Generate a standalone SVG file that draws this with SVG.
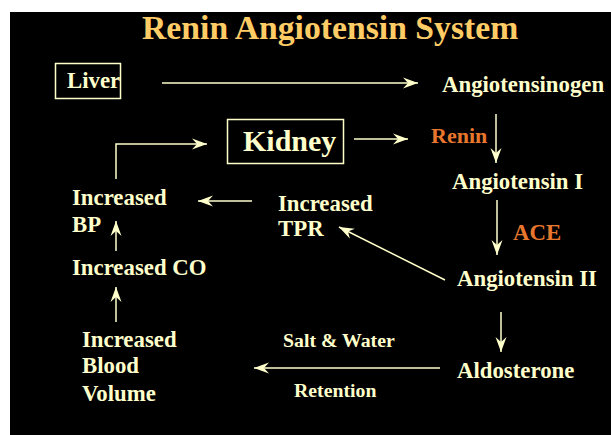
<svg xmlns="http://www.w3.org/2000/svg" width="611" height="435" viewBox="0 0 611 435" font-family="'Liberation Serif', 'Times New Roman', Times, 'DejaVu Serif', serif">
<defs>
<style>
text{font-family:'Liberation Serif','Times New Roman',Times,'DejaVu Serif',serif;font-weight:700}
.t{fill:#FFFFCC;font-size:22.8px}
.o{fill:#E8772E}
.s{font-size:19.8px}
.c{fill:none;stroke:#FFFFCC;stroke-width:1.5}
</style>
<marker id="ah" markerUnits="userSpaceOnUse" markerWidth="20" markerHeight="16" viewBox="-16 -8 20 16" refX="0" refY="0" orient="auto">
<path d="M0,0 L-15,-5.5 L-10,0 L-15,5.5 Z" fill="#FFFFCC"/>
</marker>
</defs>
<rect x="0" y="0" width="611" height="435" fill="#FFFFFF"/>
<rect x="10" y="12" width="601" height="423" fill="#000000"/>
<g id="title"><text class="t" x="142" y="39" style="font-size:33.7px;fill:#FFCC66">Renin Angiotensin System</text></g>
<g id="liver"><rect x="55.5" y="63.5" width="65" height="35" fill="none" stroke="#FFFFCC" stroke-width="1.5"/><text class="t" x="67" y="88">Liver</text></g>
<g id="angiotensinogen"><text class="t" x="442" y="92">Angiotensinogen</text></g>
<g id="kidney"><rect x="227.5" y="119.5" width="116" height="44" fill="none" stroke="#FFFFCC" stroke-width="1.5"/><text class="t" x="243" y="151" style="font-size:30px">Kidney</text></g>
<g id="renin"><text class="t o" x="431" y="143" style="font-size:22px">Renin</text></g>
<g id="angiotensin-i"><text class="t" x="452" y="189">Angiotensin I</text></g>
<g id="ace"><text class="t o" x="513" y="240">ACE</text></g>
<g id="angiotensin-ii"><text class="t" x="457" y="286">Angiotensin II</text></g>
<g id="increased-tpr"><text class="t" x="278" y="211">Increased</text><text class="t" x="278" y="236">TPR</text></g>
<g id="increased-bp"><text class="t" x="72" y="205">Increased</text><text class="t" x="72" y="232">BP</text></g>
<g id="increased-co"><text class="t" x="72" y="275">Increased CO</text></g>
<g id="increased-blood-volume"><text class="t" x="82" y="347">Increased</text><text class="t" x="82" y="373">Blood</text><text class="t" x="82" y="401">Volume</text></g>
<g id="aldosterone"><text class="t" x="457" y="378">Aldosterone</text></g>
<g id="salt-water-retention"><text class="t s" x="283" y="347">Salt &amp; Water</text><text class="t s" x="294" y="397">Retention</text></g>
<g id="connectors">
<line class="c" x1="162" y1="83" x2="418" y2="83" marker-end="url(#ah)"/>
<line class="c" x1="496" y1="114" x2="496" y2="163" marker-end="url(#ah)"/>
<line class="c" x1="354" y1="139" x2="408" y2="139" marker-end="url(#ah)"/>
<line class="c" x1="497" y1="200" x2="497" y2="255" marker-end="url(#ah)"/>
<line class="c" x1="445" y1="280" x2="339" y2="227" marker-end="url(#ah)"/>
<line class="c" x1="252" y1="201" x2="198" y2="201" marker-end="url(#ah)"/>
<line class="c" x1="116" y1="251" x2="116" y2="221" marker-end="url(#ah)"/>
<line class="c" x1="116" y1="322" x2="116" y2="287" marker-end="url(#ah)"/>
<polyline class="c" points="116,179 116,144 207,144" marker-end="url(#ah)"/>
<line class="c" x1="440" y1="368" x2="254" y2="368" marker-end="url(#ah)"/>
<line class="c" x1="501" y1="312" x2="501" y2="352" marker-end="url(#ah)"/>
</g>
</svg>
